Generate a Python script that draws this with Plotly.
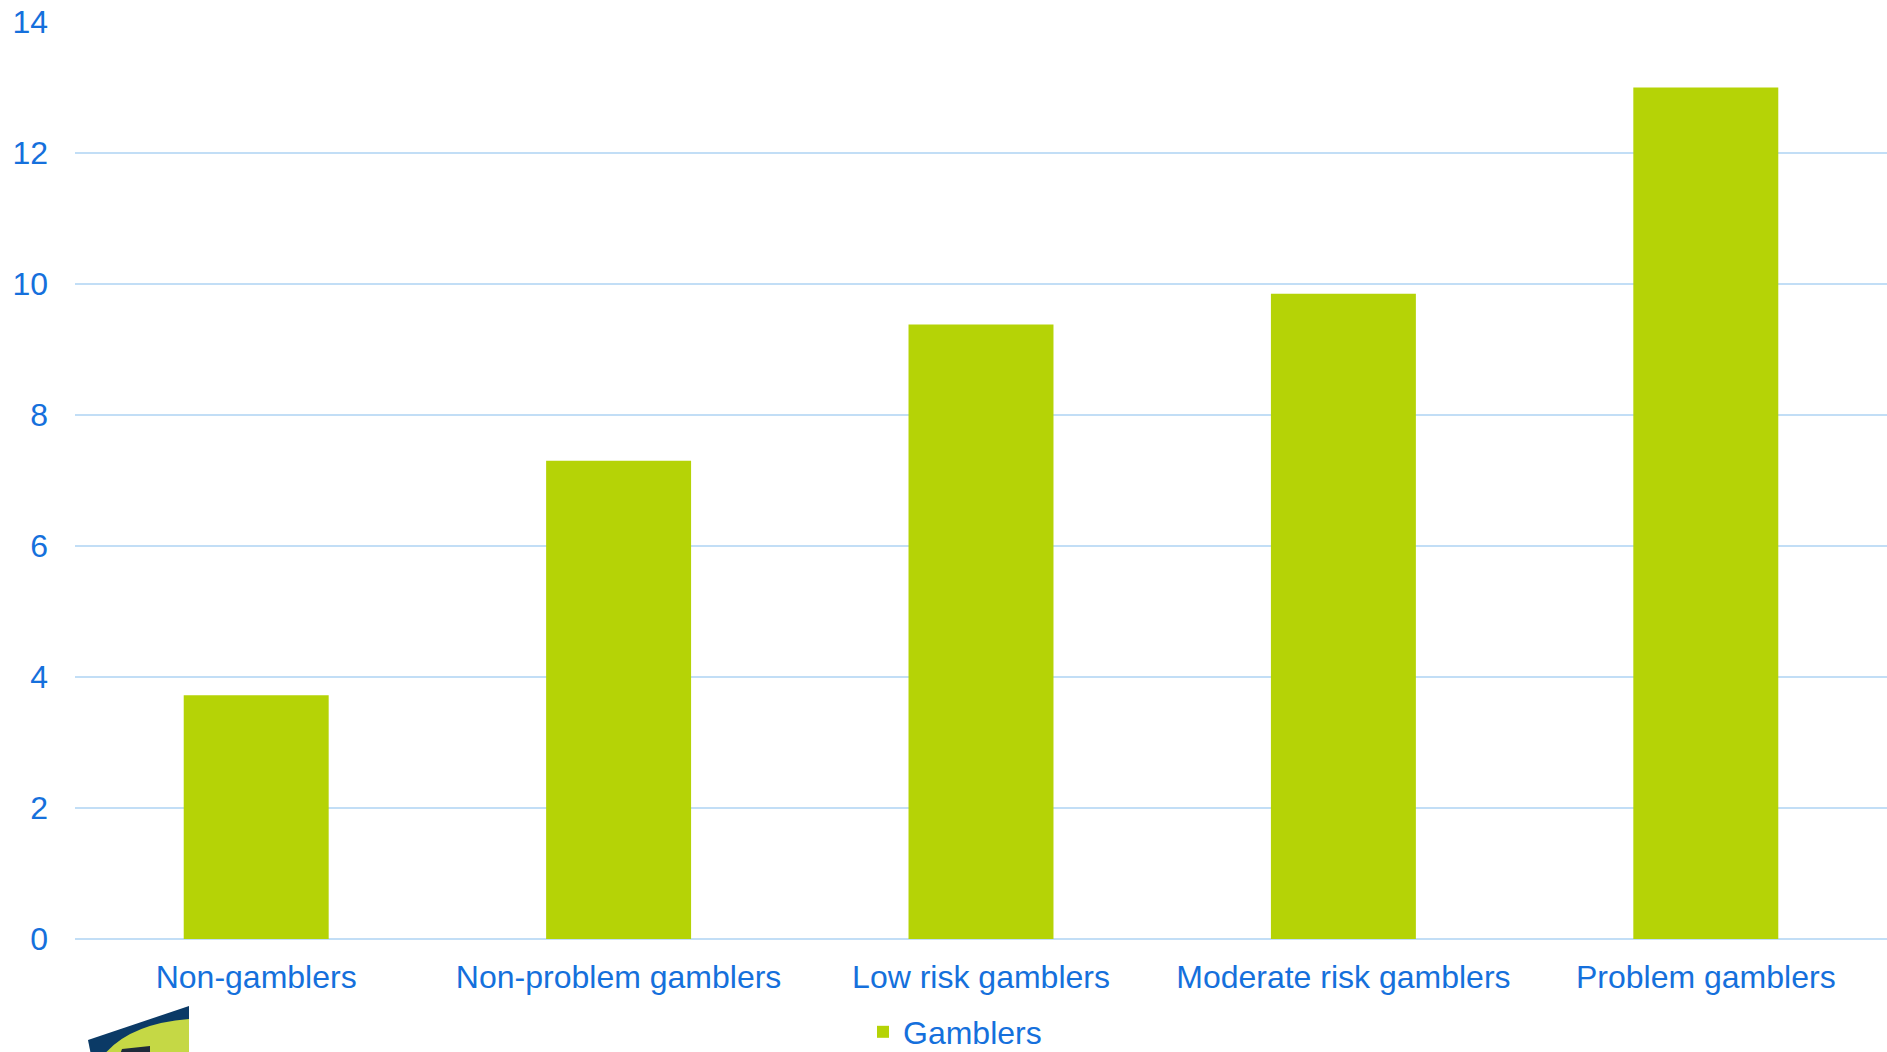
import plotly.graph_objects as go

# Share of each group, by gambling status
categories = ["Non-gamblers", "Non-problem gamblers", "Low risk gamblers",
              "Moderate risk gamblers", "Problem gamblers"]
values = [3.72, 7.30, 9.38, 9.85, 13.0]
series_name = "Gamblers"
y_ticks = [0, 2, 4, 6, 8, 10, 12, 14]

W, H = 1887, 1052
ML, MR, MT, MB = 75, 0, 22, 113
BLUE = "#1570DC"
LIME = "#B5D306"
GRID = "#C2DEF6"
FONT = "Liberation Sans, Arial, sans-serif"

plot_w = W - ML - MR
plot_h = H - MT - MB


def px(x, y):
    """Pixel position on the page -> paper coordinates."""
    return (x - ML) / plot_w, (H - MB - y) / plot_h


def path(points, close=True):
    parts = []
    for i, p in enumerate(points):
        if p[0] == "Q":
            c = px(*p[1]); e = px(*p[2])
            parts.append(f"Q{c[0]:.5f},{c[1]:.5f} {e[0]:.5f},{e[1]:.5f}")
        else:
            x, y = px(*p)
            parts.append(("M" if i == 0 else "L") + f"{x:.5f},{y:.5f}")
    return " ".join(parts) + (" Z" if close else "")


fig = go.Figure(
    go.Bar(
        x=categories,
        y=values,
        name=series_name,
        marker=dict(color=LIME, line=dict(width=0)),
        showlegend=True,
    )
)

# Corner emblem (partly cut off by the page edge)
emblem = [
    dict(type="path", xref="paper", yref="paper",
         path=path([(88, 1040), (189, 1006), (189, 1060), (92, 1060)]),
         fillcolor="#0B3A66", line=dict(width=0), layer="above"),
    dict(type="path", xref="paper", yref="paper",
         path=path([(100, 1060), ("Q", (125, 1024), (189, 1019)), (189, 1060)]),
         fillcolor="#C5D845", line=dict(width=0), layer="above"),
    dict(type="path", xref="paper", yref="paper",
         path=path([(118, 1060), (122, 1049), (150, 1046), (150, 1052),
                    (128, 1054), (126, 1060)]),
         fillcolor="#1E2A3A", line=dict(width=0), layer="above"),
]

fig.update_layout(
    width=W, height=H,
    margin=dict(l=ML, r=MR, t=MT, b=MB, pad=0),
    paper_bgcolor="white", plot_bgcolor="white",
    font=dict(family=FONT, color=BLUE, size=32),
    bargap=0.6,
    showlegend=True,
    legend=dict(orientation="h",
                xref="container", x=955 / W, xanchor="center",
                yref="container", y=1 - 1032 / H, yanchor="middle",
                font=dict(size=32, color=BLUE), bgcolor="rgba(0,0,0,0)",
                itemwidth=30),
    shapes=emblem,
)

fig.update_xaxes(
    showgrid=False, showline=False, zeroline=False,
    tickfont=dict(size=32, color=BLUE, family=FONT),
    ticks="", ticklabelstandoff=16,
)
fig.update_yaxes(
    range=[0, 14], tickvals=y_ticks,
    showgrid=True, gridcolor=GRID, gridwidth=2,
    zeroline=True, zerolinecolor=GRID, zerolinewidth=2,
    showline=False, ticks="",
    tickfont=dict(size=32, color=BLUE, family=FONT),
    ticklabelstandoff=26,
)

fig.write_html("out.html")
